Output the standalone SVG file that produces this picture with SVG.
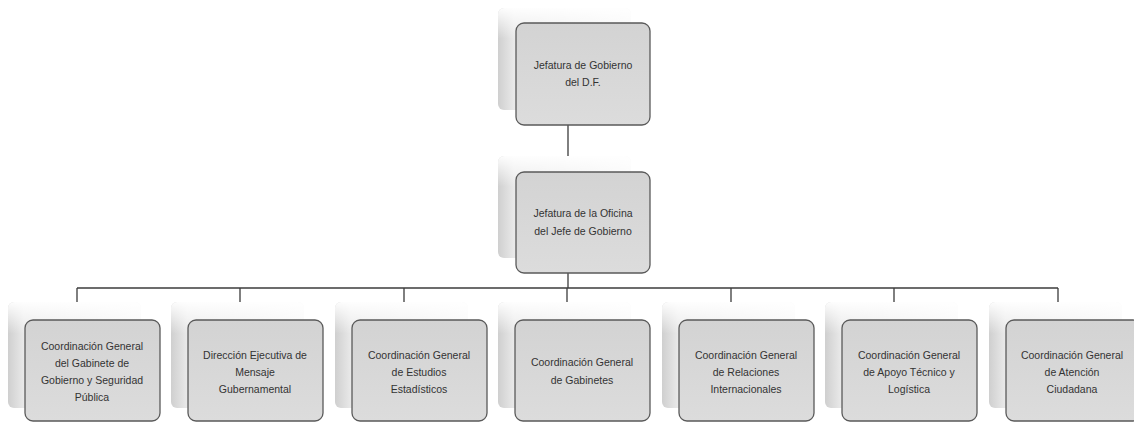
<svg xmlns="http://www.w3.org/2000/svg" width="1134" height="425" viewBox="0 0 1134 425">
<defs>
<linearGradient id="sh" x1="0" y1="0" x2="1" y2="0">
<stop offset="0" stop-color="#cfcfcf"/>
<stop offset="0.12" stop-color="#e9e9e9"/>
<stop offset="1" stop-color="#f8f8f8"/>
</linearGradient>
<linearGradient id="shv" x1="0" y1="0" x2="0" y2="1">
<stop offset="0" stop-color="#ffffff" stop-opacity="0.95"/>
<stop offset="0.3" stop-color="#ffffff" stop-opacity="0"/>
<stop offset="1" stop-color="#ffffff" stop-opacity="0"/>
</linearGradient>
<linearGradient id="bx" x1="0" y1="0" x2="0" y2="1">
<stop offset="0" stop-color="#d3d3d3"/>
<stop offset="1" stop-color="#dcdcdc"/>
</linearGradient>
</defs>
<style>
.sh{fill:url(#sh)}
.shv{fill:url(#shv)}
.bx{fill:url(#bx);stroke:#5a5a5a;stroke-width:1.3}
.t{font-family:"Liberation Sans",Arial,sans-serif;font-size:10.5px;fill:#333333;text-anchor:middle}
.c{stroke:#3c3c3c;stroke-width:1.3;fill:none}
</style>
<rect width="1134" height="425" fill="#ffffff"/>
<g id="connectors">
<path class="c" d="M568 125V172M568 273V288M77 288H1058M77 288V303M240 288V303M404 288V303M567 288V303M731 288V303M894 288V303M1058 288V303"/>
</g>
<g id="n1">
<rect class="sh" x="498" y="8" width="133" height="102" rx="6"/>
<rect class="shv" x="498" y="8" width="133" height="102" rx="6"/>
<rect class="bx" x="516" y="23" width="134" height="102" rx="8"/>
<text class="t" x="583" y="69">Jefatura de Gobierno</text>
<text class="t" x="583" y="86">del D.F.</text>
</g>
<g id="n2">
<rect class="sh" x="498" y="156" width="133" height="102" rx="6"/>
<rect class="shv" x="498" y="156" width="133" height="102" rx="6"/>
<rect class="bx" x="516" y="172" width="134" height="101" rx="8"/>
<text class="t" x="583" y="217">Jefatura de la Oficina</text>
<text class="t" x="583" y="235">del Jefe de Gobierno</text>
</g>
<g id="b1">
<rect class="sh" x="8" y="302" width="133" height="106" rx="6"/>
<rect class="shv" x="8" y="302" width="133" height="106" rx="6"/>
<rect class="bx" x="25" y="320" width="135" height="101" rx="8"/>
<text class="t" x="92" y="350">Coordinación General</text>
<text class="t" x="92" y="367">del Gabinete de</text>
<text class="t" x="92" y="384">Gobierno y Seguridad</text>
<text class="t" x="92" y="401">Pública</text>
</g>
<g id="b2">
<rect class="sh" x="171" y="302" width="133" height="106" rx="6"/>
<rect class="shv" x="171" y="302" width="133" height="106" rx="6"/>
<rect class="bx" x="188" y="320" width="135" height="101" rx="8"/>
<text class="t" x="255" y="359">Dirección Ejecutiva de</text>
<text class="t" x="255" y="376">Mensaje</text>
<text class="t" x="255" y="393">Gubernamental</text>
</g>
<g id="b3">
<rect class="sh" x="335" y="302" width="133" height="106" rx="6"/>
<rect class="shv" x="335" y="302" width="133" height="106" rx="6"/>
<rect class="bx" x="352" y="320" width="135" height="101" rx="8"/>
<text class="t" x="419" y="359">Coordinación General</text>
<text class="t" x="419" y="376">de Estudios</text>
<text class="t" x="419" y="393">Estadísticos</text>
</g>
<g id="b4">
<rect class="sh" x="498" y="302" width="133" height="106" rx="6"/>
<rect class="shv" x="498" y="302" width="133" height="106" rx="6"/>
<rect class="bx" x="515" y="320" width="135" height="101" rx="8"/>
<text class="t" x="582" y="366">Coordinación General</text>
<text class="t" x="582" y="384">de Gabinetes</text>
</g>
<g id="b5">
<rect class="sh" x="662" y="302" width="133" height="106" rx="6"/>
<rect class="shv" x="662" y="302" width="133" height="106" rx="6"/>
<rect class="bx" x="679" y="320" width="135" height="101" rx="8"/>
<text class="t" x="746" y="359">Coordinación General</text>
<text class="t" x="746" y="376">de Relaciones</text>
<text class="t" x="746" y="393">Internacionales</text>
</g>
<g id="b6">
<rect class="sh" x="825" y="302" width="133" height="106" rx="6"/>
<rect class="shv" x="825" y="302" width="133" height="106" rx="6"/>
<rect class="bx" x="842" y="320" width="135" height="101" rx="8"/>
<text class="t" x="909" y="359">Coordinación General</text>
<text class="t" x="909" y="376">de Apoyo Técnico y</text>
<text class="t" x="909" y="393">Logística</text>
</g>
<g id="b7">
<rect class="sh" x="989" y="302" width="133" height="106" rx="6"/>
<rect class="shv" x="989" y="302" width="133" height="106" rx="6"/>
<rect class="bx" x="1006" y="320" width="135" height="101" rx="8"/>
<text class="t" x="1072" y="359">Coordinación General</text>
<text class="t" x="1072" y="376">de Atención</text>
<text class="t" x="1072" y="393">Ciudadana</text>
</g>
</svg>
